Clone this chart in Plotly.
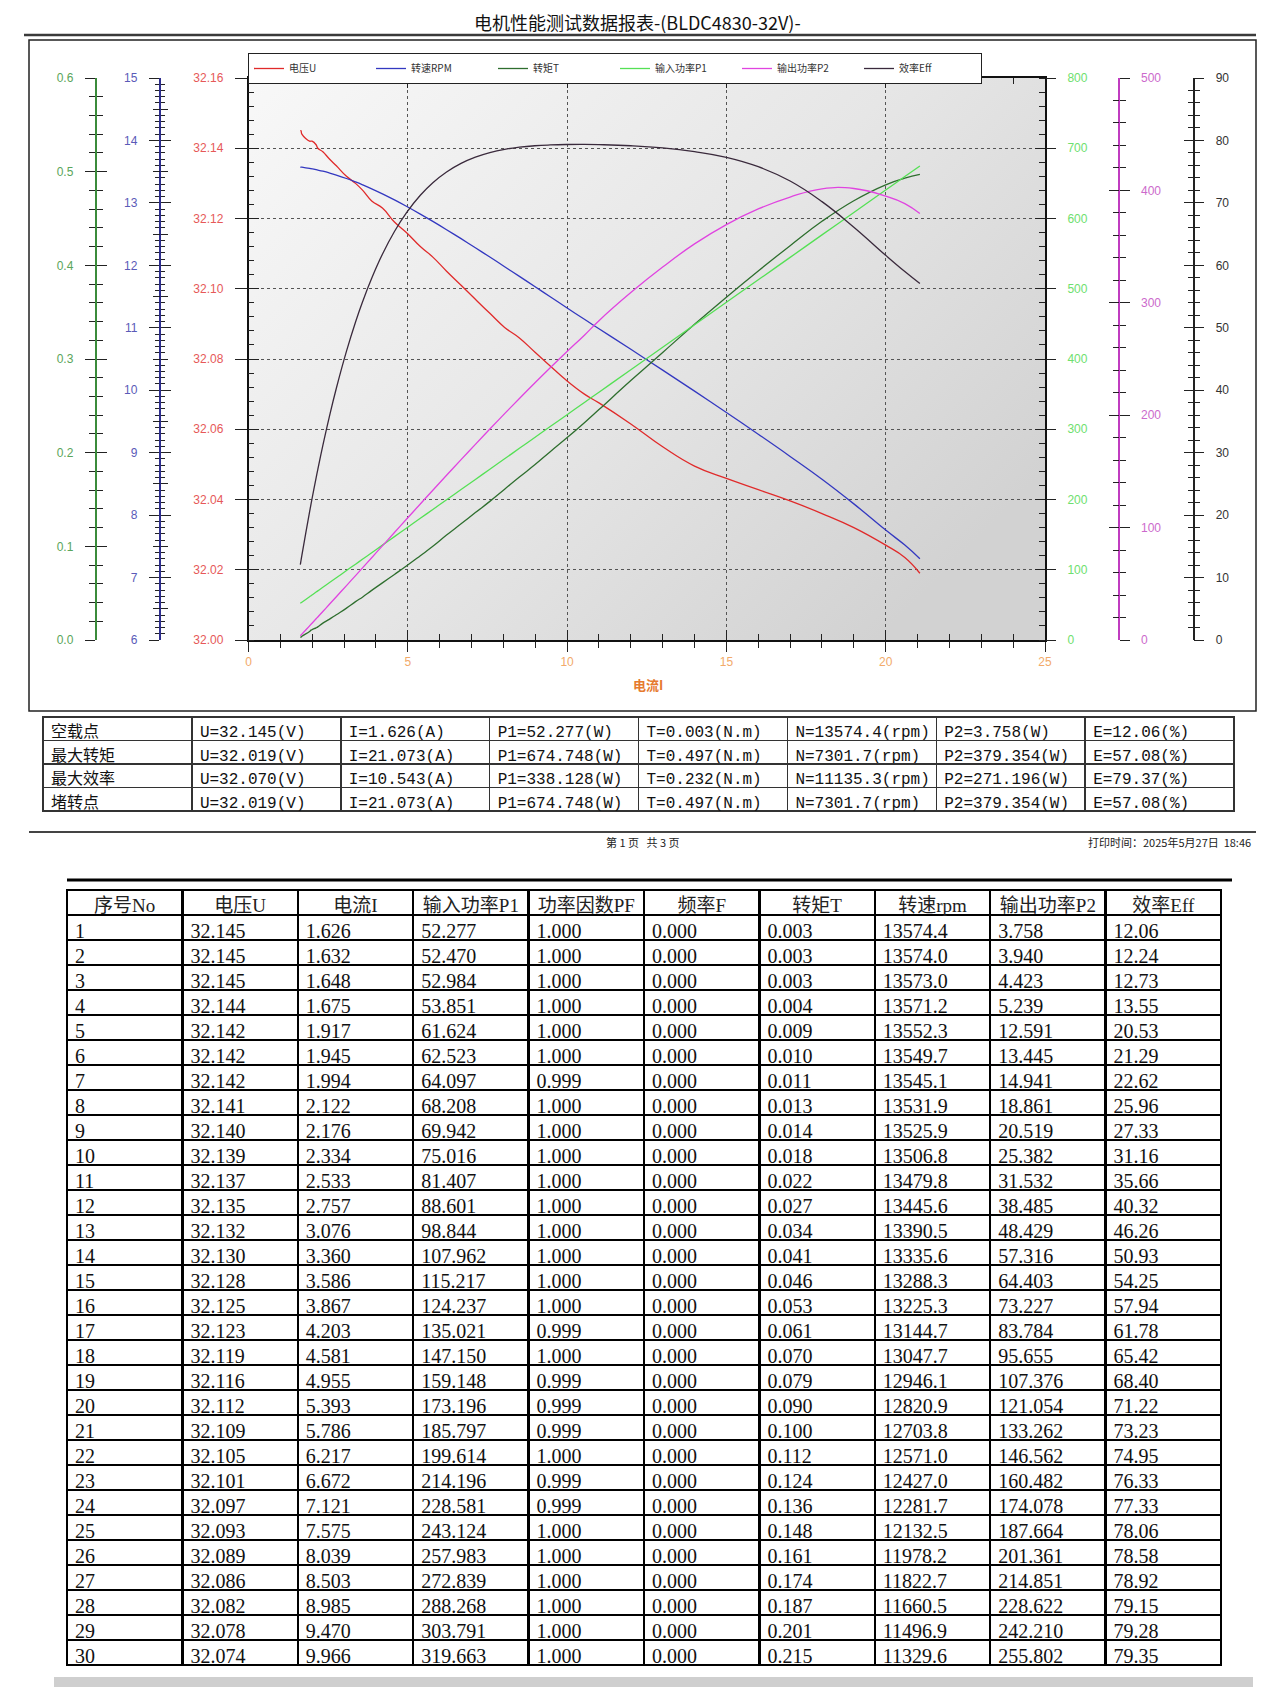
import base64
import plotly.graph_objects as go

# page body has an 8px margin: the figure is drawn at (8, 8) in the window
OFF = 8
W, H = 1276, 1701
FW, FH = W - OFF, H - OFF

# ---------------- measured rows (data table) ----------------
row_no = list(range(1, 31))
U = [32.145, 32.145, 32.145, 32.144, 32.142, 32.142, 32.142, 32.141, 32.140, 32.139,
     32.137, 32.135, 32.132, 32.130, 32.128, 32.125, 32.123, 32.119, 32.116, 32.112,
     32.109, 32.105, 32.101, 32.097, 32.093, 32.089, 32.086, 32.082, 32.078, 32.074]
I = [1.626, 1.632, 1.648, 1.675, 1.917, 1.945, 1.994, 2.122, 2.176, 2.334,
     2.533, 2.757, 3.076, 3.360, 3.586, 3.867, 4.203, 4.581, 4.955, 5.393,
     5.786, 6.217, 6.672, 7.121, 7.575, 8.039, 8.503, 8.985, 9.470, 9.966]
P1 = [52.277, 52.470, 52.984, 53.851, 61.624, 62.523, 64.097, 68.208, 69.942, 75.016,
      81.407, 88.601, 98.844, 107.962, 115.217, 124.237, 135.021, 147.150, 159.148, 173.196,
      185.797, 199.614, 214.196, 228.581, 243.124, 257.983, 272.839, 288.268, 303.791, 319.663]
PF = [1.000, 1.000, 1.000, 1.000, 1.000, 1.000, 0.999, 1.000, 1.000, 1.000,
      1.000, 1.000, 1.000, 1.000, 1.000, 1.000, 0.999, 1.000, 0.999, 0.999,
      0.999, 1.000, 0.999, 0.999, 1.000, 1.000, 1.000, 1.000, 1.000, 1.000]
FREQ = [0.000] * 30
T = [0.003, 0.003, 0.003, 0.004, 0.009, 0.010, 0.011, 0.013, 0.014, 0.018,
     0.022, 0.027, 0.034, 0.041, 0.046, 0.053, 0.061, 0.070, 0.079, 0.090,
     0.100, 0.112, 0.124, 0.136, 0.148, 0.161, 0.174, 0.187, 0.201, 0.215]
RPM = [13574.4, 13574.0, 13573.0, 13571.2, 13552.3, 13549.7, 13545.1, 13531.9, 13525.9, 13506.8,
       13479.8, 13445.6, 13390.5, 13335.6, 13288.3, 13225.3, 13144.7, 13047.7, 12946.1, 12820.9,
       12703.8, 12571.0, 12427.0, 12281.7, 12132.5, 11978.2, 11822.7, 11660.5, 11496.9, 11329.6]
P2 = [3.758, 3.940, 4.423, 5.239, 12.591, 13.445, 14.941, 18.861, 20.519, 25.382,
      31.532, 38.485, 48.429, 57.316, 64.403, 73.227, 83.784, 95.655, 107.376, 121.054,
      133.262, 146.562, 160.482, 174.078, 187.664, 201.361, 214.851, 228.622, 242.210, 255.802]
EFF = [12.06, 12.24, 12.73, 13.55, 20.53, 21.29, 22.62, 25.96, 27.33, 31.16,
       35.66, 40.32, 46.26, 50.93, 54.25, 57.94, 61.78, 65.42, 68.40, 71.22,
       73.23, 74.95, 76.33, 77.33, 78.06, 78.58, 78.92, 79.15, 79.28, 79.35]

# ---------------- curve continuation (I > 10 A) ----------------
I_ext = [10.543, 11.0, 12.0, 13.0, 14.0, 15.0, 16.0, 17.0, 18.0, 19.0, 20.0, 20.6, 21.073]
U_ext = [32.070, 32.0675, 32.0615, 32.055, 32.0495, 32.046, 32.0428, 32.0396, 32.036, 32.032, 32.027, 32.0235, 32.019]
RPM_ext = [11135.3, 10985, 10655, 10322, 9985, 9643, 9295, 8940, 8575, 8180, 7760, 7520, 7301.7]
T_ext = [0.232, 0.246, 0.277, 0.307, 0.337, 0.366, 0.394, 0.421, 0.447, 0.469, 0.486, 0.493, 0.497]
P1_ext = [338.128, 352.74, 384.74, 416.72, 448.69, 480.69, 512.68, 544.67, 576.65, 608.61, 640.54, 659.68, 674.748]
P2_ext = [271.196, 284.1, 309.1, 331.8, 352.4, 369.6, 383.5, 394.1, 401.4, 401.7, 394.9, 388.2, 379.354]
EFF_ext = [79.37, 79.33, 79.15, 78.8, 78.2, 77.3, 75.8, 73.5, 70.2, 66.1, 61.6, 59.0, 57.08]

# ---------------- summary table ----------------
sum_labels = ['空载点', '最大转矩', '最大效率', '堵转点']
sum_U = [32.145, 32.019, 32.070, 32.019]
sum_I = [1.626, 21.073, 10.543, 21.073]
sum_P1 = [52.277, 674.748, 338.128, 674.748]
sum_T = [0.003, 0.497, 0.232, 0.497]
sum_N = [13574.4, 7301.7, 11135.3, 7301.7]
sum_P2 = [3.758, 379.354, 271.196, 379.354]
sum_E = [12.06, 57.08, 79.37, 57.08]

legend_names = ['电压U', '转速RPM', '转矩T', '输入功率P1', '输出功率P2', '效率Eff']
table_headers = ['序号No', '电压U', '电流I', '输入功率P1', '功率因数PF', '频率F', '转矩T', '转速rpm', '输出功率P2', '效率Eff']

x_ticks = [0, 5, 10, 15, 20, 25]
u_ticks = [32.00, 32.02, 32.04, 32.06, 32.08, 32.10, 32.12, 32.14, 32.16]
n_ticks = [6000, 7000, 8000, 9000, 10000, 11000, 12000, 13000, 14000, 15000]
n_half = [6500, 7500, 8500, 9500, 10500, 11500, 12500, 13500, 14500]
t_ticks = [0.0, 0.1, 0.2, 0.3, 0.4, 0.5, 0.6]
p1_ticks = [0, 100, 200, 300, 400, 500, 600, 700, 800]
p2_ticks = [0, 100, 200, 300, 400, 500]
e_ticks = [0, 10, 20, 30, 40, 50, 60, 70, 80, 90]


def px(x):
    return (x - OFF) / FW


def py(y):
    return 1 - (y - OFF) / FH


X0, X1 = px(248.5), px(1045)
Y0, Y1 = py(640), py(78)

TICKFONT = 'Liberation Sans, Arial, sans-serif'
CJK = 'Noto Sans CJK SC'

fig = go.Figure()

# ---------------- curves ----------------
curve_specs = [
    (U + U_ext, 'y', '#E02A2A'),
    (RPM + RPM_ext, 'y2', '#3338C0'),
    (T + T_ext, 'y3', '#2E6E2E'),
    (P1 + P1_ext, 'y4', '#55E055'),
    (P2 + P2_ext, 'y5', '#E044E0'),
    (EFF + EFF_ext, 'y6', '#3A2A3C'),
]
x_all = I + I_ext
for name, (yv, ya, col) in zip(legend_names, curve_specs):
    fig.add_trace(go.Scatter(x=x_all, y=yv, name=name, xaxis='x', yaxis=ya, mode='lines',
                             line=dict(color=col, width=1.3, shape='spline', smoothing=1.3),
                             hoverinfo='skip'))

# dummy traces so that tick-only twin axes are drawn
for ya, y0 in [('y7', 32.05), ('y8', 9000), ('y9', 0.3), ('y10', 400), ('y11', 200), ('y12', 40),
               ('y13', 9000), ('y14', 9000)]:
    fig.add_trace(go.Scatter(x=[5], y=[y0], xaxis='x', yaxis=ya, mode='markers',
                             marker=dict(opacity=0, size=1), showlegend=False, hoverinfo='skip'))
fig.add_trace(go.Scatter(x=[5], y=[32.05], xaxis='x2', yaxis='y', mode='markers',
                         marker=dict(opacity=0, size=1), showlegend=False, hoverinfo='skip'))

# ---------------- tables ----------------
sum_cols = [
    sum_labels,
    [f"U={v:.3f}(V)" for v in sum_U],
    [f"I={v:.3f}(A)" for v in sum_I],
    [f"P1={v:.3f}(W)" for v in sum_P1],
    [f"T={v:.3f}(N.m)" for v in sum_T],
    [f"N={v:.1f}(rpm)" for v in sum_N],
    [f"P2={v:.3f}(W)" for v in sum_P2],
    [f"E={v:.2f}(%)" for v in sum_E],
]
sum_font = dict(family='Liberation Mono, Noto Sans CJK SC, monospace', size=16, color='#111')
fig.add_trace(go.Table(
    domain=dict(x=[px(43), px(1234)], y=[py(812), py(717)]),
    columnwidth=[1] * 8,
    header=dict(values=[c[0] for c in sum_cols], align='left', height=23.5,
                fill_color='white', line=dict(color='#333', width=1.5), font=sum_font),
    cells=dict(values=[c[1:] for c in sum_cols], align='left', height=23.5,
               fill_color='white', line=dict(color='#333', width=1.5), font=sum_font),
))

data_cols = [
    [str(v) for v in row_no],
    [f"{v:.3f}" for v in U],
    [f"{v:.3f}" for v in I],
    [f"{v:.3f}" for v in P1],
    [f"{v:.3f}" for v in PF],
    [f"{v:.3f}" for v in FREQ],
    [f"{v:.3f}" for v in T],
    [f"{v:.1f}" for v in RPM],
    [f"{v:.3f}" for v in P2],
    [f"{v:.2f}" for v in EFF],
]
fig.add_trace(go.Table(
    domain=dict(x=[px(67), px(1221)], y=[py(1676), py(890)]),
    columnwidth=[1] * 10,
    header=dict(values=table_headers, align='center', height=25,
                fill_color='white', line=dict(color='#000', width=2.5),
                font=dict(family='Liberation Serif, Noto Sans CJK SC, serif', size=19, color='#222')),
    cells=dict(values=data_cols, align='left', height=25,
               fill_color='white', line=dict(color='#000', width=2.5),
               font=dict(family='Liberation Serif, serif', size=20, color='#111')),
))

# ---------------- axes ----------------
common = dict(showgrid=False, zeroline=False, automargin=False, fixedrange=True,
              tickcolor='#222', tickwidth=1)


def twin(base, **kw):
    d = dict(common)
    d.update(dict(overlaying='y', showticklabels=False, showline=False, ticks='inside'))
    d.update(base)
    d.update(kw)
    return d


STANDOFF = 9

layout_axes = dict(
    xaxis=dict(common, domain=[X0, X1], range=[0, 25], tickvals=x_ticks, ticks='outside', ticklen=10,
               minor=dict(dtick=1, tick0=0, ticks='outside', ticklen=6, tickcolor='#222'),
               showline=True, linecolor='#111', linewidth=1.5, mirror=True,
               showgrid=True, gridcolor='#555', griddash='dot', gridwidth=1,
               tickfont=dict(family=TICKFONT, size=12, color='#F2AA6A'), anchor='y'),
    xaxis2=dict(common, overlaying='x', range=[0, 25], anchor='y', side='bottom', tickvals=x_ticks,
                ticks='inside', ticklen=10, showticklabels=False, showline=False, mirror='ticks',
                minor=dict(dtick=1, tick0=0, ticks='inside', ticklen=6, tickcolor='#222')),
    yaxis=dict(common, domain=[Y0, Y1], range=[32.0, 32.16], tickvals=u_ticks,
               ticktext=[f"{v:.2f}" for v in u_ticks], ticks='outside', ticklen=12,
               minor=dict(dtick=0.004, tick0=32.0, ticks='inside', ticklen=6, tickcolor='#222'),
               showline=True, linecolor='#111', linewidth=1.5, mirror=True,
               showgrid=True, gridcolor='#555', griddash='dot', gridwidth=1, ticklabelstandoff=STANDOFF,
               tickfont=dict(family=TICKFONT, size=12, color='#E65858'), anchor='x', side='left'),
    yaxis7=twin(dict(anchor='x', side='left', range=[32.0, 32.16], tickvals=u_ticks, ticklen=10)),
    yaxis2=dict(common, overlaying='y', anchor='free', position=px(159.5), side='left',
                range=[6000, 15000], tickvals=n_ticks, ticktext=[str(v // 1000) for v in n_ticks],
                ticks='outside', ticklen=10, ticklabelstandoff=STANDOFF,
                minor=dict(dtick=100, tick0=6000, ticks='outside', ticklen=4, tickcolor='#222'),
                showline=True, linecolor='#2E2E8E', linewidth=1.5,
                tickfont=dict(family=TICKFONT, size=12, color='#5A5AB8')),
    yaxis8=twin(dict(anchor='free', position=px(159.5), side='left', range=[6000, 15000],
                     tickvals=n_ticks, ticklen=10,
                     minor=dict(dtick=100, tick0=6000, ticks='inside', ticklen=4, tickcolor='#222'))),
    yaxis13=twin(dict(anchor='free', position=px(159.5), side='left', range=[6000, 15000],
                      tickvals=n_half, ticklen=7, ticks='outside')),
    yaxis14=twin(dict(anchor='free', position=px(159.5), side='left', range=[6000, 15000],
                      tickvals=n_half, ticklen=7, ticks='inside')),
    yaxis3=dict(common, overlaying='y', anchor='free', position=px(95.5), side='left',
                range=[0, 0.6], tickvals=t_ticks, ticktext=[f"{v:.1f}" for v in t_ticks],
                ticks='outside', ticklen=10, ticklabelstandoff=STANDOFF,
                minor=dict(dtick=0.02, tick0=0, ticks='outside', ticklen=6, tickcolor='#222'),
                showline=True, linecolor='#3B8B3B', linewidth=1.5,
                tickfont=dict(family=TICKFONT, size=12, color='#5AA55A')),
    yaxis9=twin(dict(anchor='free', position=px(95.5), side='left', range=[0, 0.6],
                     tickvals=t_ticks, ticklen=10,
                     minor=dict(dtick=0.02, tick0=0, ticks='inside', ticklen=6, tickcolor='#222'))),
    yaxis4=dict(common, overlaying='y', anchor='x', side='right', range=[0, 800], tickvals=p1_ticks,
                ticks='outside', ticklen=10, ticklabelstandoff=STANDOFF,
                minor=dict(dtick=20, tick0=0, ticks='inside', ticklen=6, tickcolor='#222'),
                showline=False, tickfont=dict(family=TICKFONT, size=12, color='#6EE06E')),
    yaxis10=twin(dict(anchor='x', side='right', range=[0, 800], tickvals=p1_ticks, ticklen=10)),
    yaxis5=dict(common, overlaying='y', anchor='free', position=px(1118.6), side='right',
                range=[0, 500], tickvals=p2_ticks, ticks='outside', ticklen=10, ticklabelstandoff=STANDOFF,
                minor=dict(dtick=20, tick0=0, ticks='outside', ticklen=6, tickcolor='#222'),
                showline=True, linecolor='#C03CC0', linewidth=2,
                tickfont=dict(family=TICKFONT, size=12, color='#CC6ACC')),
    yaxis11=twin(dict(anchor='free', position=px(1118.6), side='right', range=[0, 500],
                      tickvals=p2_ticks, ticklen=10,
                      minor=dict(dtick=20, tick0=0, ticks='inside', ticklen=6, tickcolor='#222'))),
    yaxis6=dict(common, overlaying='y', anchor='free', position=px(1193.5), side='right',
                range=[0, 90], tickvals=e_ticks, ticks='outside', ticklen=10, ticklabelstandoff=STANDOFF,
                minor=dict(dtick=2, tick0=0, ticks='outside', ticklen=6, tickcolor='#222'),
                showline=True, linecolor='#222', linewidth=1.5,
                tickfont=dict(family=TICKFONT, size=12, color='#333')),
    yaxis12=twin(dict(anchor='free', position=px(1193.5), side='right', range=[0, 90],
                      tickvals=e_ticks, ticklen=10,
                      minor=dict(dtick=2, tick0=0, ticks='inside', ticklen=6, tickcolor='#222'))),
)

# ---------------- background gradient of plot area ----------------
svg = ('<svg xmlns="http://www.w3.org/2000/svg" width="200" height="200" preserveAspectRatio="none">'
       '<defs><linearGradient id="g" x1="0" y1="0" x2="1" y2="0.7">'
       '<stop offset="0" stop-color="#f8f8f8"/><stop offset="0.55" stop-color="#e6e6e6"/>'
       '<stop offset="1" stop-color="#d2d2d2"/></linearGradient></defs>'
       '<rect width="200" height="200" fill="url(#g)"/></svg>')
bg_src = 'data:image/svg+xml;base64,' + base64.b64encode(svg.encode()).decode()

shapes = [
    dict(type='line', xref='paper', yref='paper', x0=px(24), x1=px(1256), y0=py(35), y1=py(35),
         line=dict(color='#3a3a3a', width=2.5)),
    dict(type='rect', xref='paper', yref='paper', x0=px(29), x1=px(1256), y0=py(711), y1=py(40),
         line=dict(color='#222', width=1.5)),
    dict(type='line', xref='paper', yref='paper', x0=px(29), x1=px(1256), y0=py(832), y1=py(832),
         line=dict(color='#444', width=2)),
    dict(type='line', xref='paper', yref='paper', x0=px(67), x1=px(1232), y0=py(880), y1=py(880),
         line=dict(color='#000', width=3)),
    dict(type='rect', xref='paper', yref='paper', x0=px(54), x1=px(1253), y0=py(1687), y1=py(1677),
         fillcolor='#cfcfcf', line=dict(width=0)),
]

annotations = [
    dict(text='电机性能测试数据报表-(BLDC4830-32V)-', x=px(637), y=py(22), xref='paper', yref='paper',
         showarrow=False, xanchor='center', yanchor='middle', borderpad=0,
         font=dict(family=CJK, size=18, color='#111')),
    dict(text='<b>电流I</b>', x=px(648), y=py(684), xref='paper', yref='paper', showarrow=False,
         xanchor='center', yanchor='middle', font=dict(family=CJK, size=13, color='#E67A2E')),
    dict(text='第 1 页\u00a0\u00a0\u00a0共 3 页', x=px(642), y=py(842), xref='paper', yref='paper',
         showarrow=False, xanchor='center', yanchor='middle', font=dict(family=CJK, size=11, color='#222')),
    dict(text='打印时间：2025年5月27日\u00a0\u00a018:46', x=px(1253), y=py(842), xref='paper', yref='paper',
         showarrow=False, xanchor='right', yanchor='middle', font=dict(family=CJK, size=11, color='#222')),
]

fig.update_layout(
    width=FW, height=FH, margin=dict(l=0, r=0, t=0, b=0),
    paper_bgcolor='white', plot_bgcolor='rgba(0,0,0,0)',
    showlegend=True,
    legend=dict(orientation='h', x=px(248), y=py(53), xanchor='left', yanchor='top',
                bgcolor='white', bordercolor='#222', borderwidth=1,
                font=dict(family=CJK, size=10, color='#333'),
                entrywidth=77, entrywidthmode='pixels', itemwidth=30, tracegroupgap=0),
    images=[dict(source=bg_src, xref='paper', yref='paper', x=X0, y=Y1, sizex=X1 - X0, sizey=Y1 - Y0,
                 xanchor='left', yanchor='top', sizing='stretch', layer='below')],
    shapes=shapes, annotations=annotations,
    hovermode=False,
    **layout_axes,
)

fig.write_html('out.html')
